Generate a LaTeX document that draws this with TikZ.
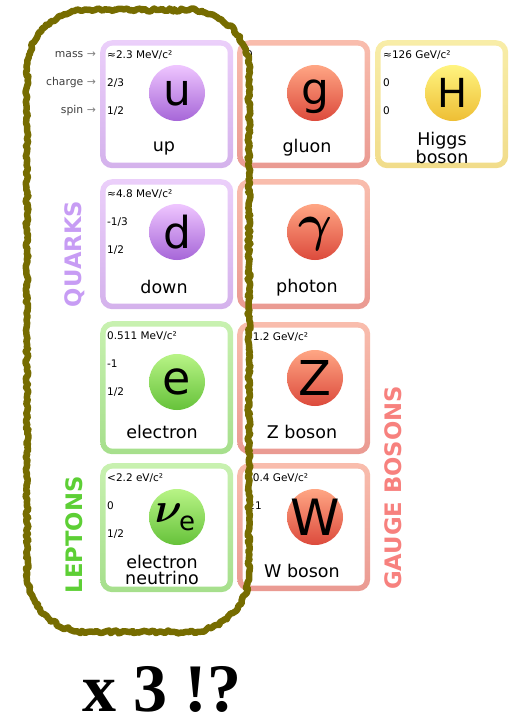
\documentclass[tikz,border=0pt]{standalone}
\usepackage{fontspec}
\setmainfont{DejaVu Sans}
\newfontfamily\xthree{Liberation Serif}
\usepackage{graphicx}
\usetikzlibrary{decorations.pathmorphing}

\definecolor{qbt}{HTML}{EBCFFA}
\definecolor{qbb}{HTML}{D4B2EC}
\definecolor{qcl}{HTML}{EFC6FF}
\definecolor{qcd}{HTML}{A666D8}
\definecolor{bbt}{HTML}{F9BDAD}
\definecolor{bbb}{HTML}{EA9A92}
\definecolor{bcl}{HTML}{FFA684}
\definecolor{bcd}{HTML}{DC4A3C}
\definecolor{hbt}{HTML}{F8EDA8}
\definecolor{hbb}{HTML}{F1DC8A}
\definecolor{hcl}{HTML}{FFF480}
\definecolor{hcd}{HTML}{EEBE34}
\definecolor{lbt}{HTML}{C8F1B0}
\definecolor{lbb}{HTML}{A6DF8C}
\definecolor{lcl}{HTML}{B8F486}
\definecolor{lcd}{HTML}{66C23A}
\definecolor{quarkc}{HTML}{C79CF4}
\definecolor{leptonc}{HTML}{5DCF35}
\definecolor{gaugec}{HTML}{F7817E}
\definecolor{wigc}{HTML}{766C00}

% #1 name, #2 left x, #3 top y, #4 height, #5 palette
\newcommand\card[5]{%
  \node[outer, minimum height=#4pt, top color=#5bt, bottom color=#5bb] (#1) at (#2,-#3) {};
  \node[inner, minimum height=#4pt-11pt] (#1-in) at (#1.center) {};
}
% #1 name, #2 x, #3 top y, #4 mass, #5 charge, #6 spin
\newcommand\info[6]{%
  \node[small] (#1-m) at (#2,-#3-15) {#4};
  \node[small] (#1-c) at (#2,-#3-43) {#5};
  \node[small] (#1-s) at (#2,-#3-71) {#6};
}

\begin{document}
\begin{tikzpicture}[x=1pt,y=1pt,
  outer/.style={rectangle, rounded corners=12pt, minimum width=133pt, anchor=north west, inner sep=0pt},
  inner/.style={rectangle, rounded corners=7pt, fill=white, minimum width=122pt, inner sep=0pt},
  ball/.style={circle, minimum size=56pt, inner sep=0pt, shading angle=45, top color=#1cl, bottom color=#1cd},
  sym/.style={inner sep=0pt, text=black},
  small/.style={font=\fontsize{10.5}{12}\selectfont, anchor=west, inner sep=0pt},
  side/.style={font=\fontsize{10.8}{12}\selectfont, anchor=east, inner sep=0pt, text=black!75},
  pname/.style={font=\fontsize{17.5}{15.5}\selectfont, align=center, inner sep=0pt},
  group/.style={font=\fontsize{22.7}{24}\bfseries\selectfont, rotate=90, inner sep=0pt},
  wiggle/.style={draw=wigc, line width=6.5pt, line join=round, line cap=round, decorate,
    decoration={random steps, segment length=2.5pt, amplitude=1.5pt}},
]
\useasboundingbox (0,0) rectangle (511,-718);

% cards
\card{upbox}{100}{40}{128}{q}
\card{downbox}{100}{179}{130}{q}
\card{ebox}{100}{321}{133}{l}
\card{nubox}{100}{463}{129}{l}
\card{gbox}{237}{40}{128}{b}
\card{gammabox}{237}{179}{130}{b}
\card{zbox}{237}{322}{132}{b}
\card{wbox}{237}{463}{128}{b}
\card{hbox}{375}{40}{128}{h}

% balls
\node[ball=q] (u-ball) at (177,-93) {};
\node[ball=q] (d-ball) at (177,-232) {};
\node[ball=l] (e-ball) at (177,-382) {};
\node[ball=l] (nu-ball) at (177,-517) {};
\node[ball=b] (g-ball) at (315,-93) {};
\node[ball=b] (gamma-ball) at (315,-232) {};
\node[ball=b] (z-ball) at (315,-378) {};
\node[ball=b] (w-ball) at (315,-517) {};
\node[ball=h] (h-ball) at (453,-93) {};

% symbols
\node[sym, font=\fontsize{44}{44}\selectfont] (u) at (u-ball) {u};
\node[sym, font=\fontsize{44}{44}\selectfont] (d) at (d-ball) {d};
\node[sym, font=\fontsize{46}{46}\selectfont] (e) at (e-ball) {e};
\node[sym, anchor=base] (nu) at (168.5,-522) {\scalebox{4.2}{\boldmath$\nu$}};
\node[sym, anchor=base west, font=\fontsize{26}{26}\selectfont] (nue) at (179,-530) {e};
\node[sym, font=\fontsize{44}{44}\selectfont, yshift=-4pt] (g) at (g-ball) {g};
\node[sym, anchor=base] (gamma) at (315,-240) {\scalebox{5.2}{\boldmath$\gamma$}};
\node[sym, font=\fontsize{48}{48}\selectfont] (z) at (z-ball) {Z};
\node[sym, font=\fontsize{50}{50}\selectfont] (w) at (w-ball) {W};
\node[sym, font=\fontsize{40}{40}\selectfont] (h) at (h-ball) {H};

% properties
\info{up}{107}{40}{≈2.3 MeV/c²}{2/3}{1/2}
\info{down}{107}{179}{≈4.8 MeV/c²}{-1/3}{1/2}
\info{el}{107}{321}{0.511 MeV/c²}{-1}{1/2}
\info{neu}{107}{463}{<2.2 eV/c²}{0}{1/2}
\info{glu}{246}{40}{0}{0}{1}
\info{pho}{246}{179}{0}{0}{1}
\info{zb}{246}{322}{91.2 GeV/c²}{0}{1}
\info{wb}{246}{463}{80.4 GeV/c²}{±1}{1}
\info{hig}{383}{40}{≈126 GeV/c²}{0}{0}

% side legend
\node[side] (lmass) at (96,-55) {mass \textcolor{black!50}{→}};
\node[side] (lcharge) at (96,-83) {charge \textcolor{black!50}{→}};
\node[side] (lspin) at (96,-111) {spin \textcolor{black!50}{→}};

% names
\node[pname] (upn) at (164,-148) {up};
\node[pname] (downn) at (164,-287) {down};
\node[pname] (en) at (162,-432) {electron};
\node[pname] (nun) at (162,-570) {electron\\neutrino};
\node[pname] (gn) at (307,-148) {gluon};
\node[pname] (gamman) at (307,-288) {photon};
\node[pname] (zn) at (302,-432) {Z boson};
\node[pname] (wn) at (302,-571) {W boson};
\node[pname] (hn) at (442,-148) {Higgs\\boson};

% group labels
\node[group, text=quarkc] (quarks) at (75,-254) {QUARKS};
\node[group, text=leptonc] (leptons) at (74,-535) {LEPTONS};
\node[group, text=gaugec] (gauge) at (393,-488) {GAUGE BOSONS};

% hand-drawn loop
\pgfmathsetseed{7}
\draw[wiggle] (87,-10) -- (189,-10)
  arc[start angle=90, end angle=0, radius=60] -- (249,-572)
  arc[start angle=0, end angle=-90, radius=60] -- (87,-632)
  arc[start angle=270, end angle=180, radius=60] -- (27,-70)
  arc[start angle=180, end angle=90, radius=60] -- cycle;

% caption
\node[inner sep=0pt, anchor=base, font=\xthree\bfseries\fontsize{68}{68}\selectfont] (times3) at (162,-711) {x 3 !?};
\end{tikzpicture}
\end{document}
